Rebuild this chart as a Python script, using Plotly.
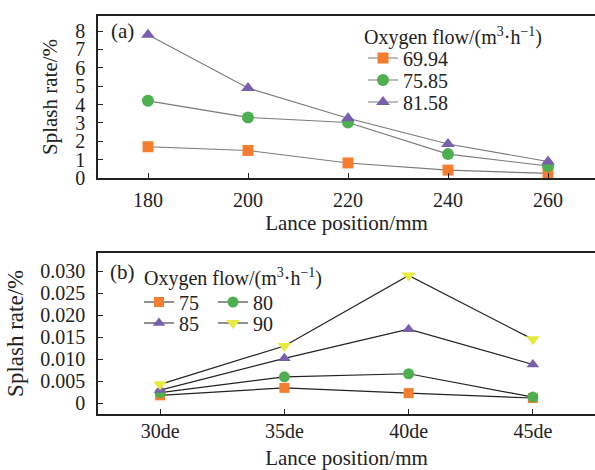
import plotly.graph_objects as go

# ---------------- data ----------------
lance_a = [180, 200, 220, 240, 260]
flow_a_names = ["69.94", "75.85", "81.58"]
rate_a_6994 = [1.70, 1.50, 0.82, 0.43, 0.25]
rate_a_7585 = [4.20, 3.30, 3.02, 1.30, 0.65]
rate_a_8158 = [7.80, 4.90, 3.25, 1.85, 0.90]

lance_b = ["30de", "35de", "40de", "45de"]
flow_b_names = ["75", "80", "85", "90"]
rate_b_75 = [0.0018, 0.0035, 0.0023, 0.0012]
rate_b_80 = [0.0024, 0.0060, 0.0067, 0.0014]
rate_b_85 = [0.0030, 0.0102, 0.0168, 0.0088]
rate_b_90 = [0.0043, 0.0130, 0.0290, 0.0145]

y_ticks_a = [0, 1, 2, 3, 4, 5, 6, 7, 8]
y_ticks_b = [0, 0.005, 0.010, 0.015, 0.020, 0.025, 0.030]
y_ticktext_b = ["0", "0.005", "0.010", "0.015", "0.020", "0.025", "0.030"]

# ---------------- style ----------------
FONT = "Liberation Serif"
ORANGE = "#F47D30"
GREEN = "#4DAF4F"
PURPLE = "#7A5FAF"
YELLOW = "#E9E940"

fig = go.Figure()

top_series = [
    (rate_a_6994, flow_a_names[0], "square", ORANGE, 11, "legend"),
    (rate_a_7585, flow_a_names[1], "circle", GREEN, 12, "legend2"),
    (rate_a_8158, flow_a_names[2], "triangle-up", PURPLE, 12, "legend3"),
]
for vals, name, sym, col, sz, leg in top_series:
    fig.add_trace(go.Scatter(
        x=lance_a, y=vals, name=name, mode="lines+markers",
        line=dict(color="#7a7a7a", width=1.1),
        marker=dict(symbol=sym, color=col, size=sz, line=dict(width=0)),
        xaxis="x", yaxis="y", legend=leg, cliponaxis=False))

bot_series = [
    (rate_b_75, flow_b_names[0], "square", ORANGE, 10, "legend4"),
    (rate_b_80, flow_b_names[1], "circle", GREEN, 11, "legend4"),
    (rate_b_85, flow_b_names[2], "triangle-up", PURPLE, 11, "legend5"),
    (rate_b_90, flow_b_names[3], "triangle-down", YELLOW, 12, "legend5"),
]
for vals, name, sym, col, sz, leg in bot_series:
    fig.add_trace(go.Scatter(
        x=lance_b, y=vals, name=name, mode="lines+markers",
        line=dict(color="#222222", width=1.2),
        marker=dict(symbol=sym, color=col, size=sz, line=dict(width=0)),
        xaxis="x2", yaxis="y2", legend=leg, cliponaxis=False))

H = 470
ML, MR, MT, MB = 98, 0, 16, 56
PH = H - MT - MB


def py(pix):
    return (H - MB - pix) / PH


def px(pix):
    return (pix - ML) / (595 - ML - MR)


axis_common = dict(
    showgrid=False, zeroline=False, showline=True, linecolor="#222222",
    linewidth=1.5, ticks="inside", ticklen=5, tickcolor="#222222",
    tickfont=dict(family=FONT, size=20, color="#222222"),
)

leg_common = dict(
    bgcolor="rgba(0,0,0,0)", font=dict(family=FONT, size=20, color="#222222"),
    xanchor="left", yanchor="middle", borderwidth=0,
)

fig.update_layout(
    width=595, height=470,
    margin=dict(l=ML, r=MR, t=MT, b=MB),
    paper_bgcolor="white", plot_bgcolor="white",
    font=dict(family=FONT, size=20, color="#222222"),
    showlegend=True,
    xaxis=dict(axis_common, domain=[0, 1], anchor="y", range=[170, 269.4],
               tickvals=lance_a, mirror=True, ticklabelstandoff=3,
               title=dict(text="Lance position/mm", standoff=2,
                          font=dict(family=FONT, size=21))),
    yaxis=dict(axis_common, domain=[py(178), 1], anchor="x", range=[0, 8.82],
               tickvals=y_ticks_a, ticklabelstandoff=7,
               title=dict(text="Splash rate/%", standoff=12,
                          font=dict(family=FONT, size=21))),
    xaxis2=dict(axis_common, domain=[0, 1], anchor="y2", type="category",
                range=[-0.5, 3.5], mirror=True, ticklabelstandoff=-2,
                title=dict(text="Lance position/mm", standoff=13,
                           font=dict(family=FONT, size=21))),
    yaxis2=dict(axis_common, domain=[0, py(252.7)], anchor="x2",
                range=[-0.00243, 0.03416], tickvals=y_ticks_b,
                ticktext=y_ticktext_b, ticklabelstandoff=7,
                title=dict(text="Splash rate/%", standoff=10,
                           font=dict(family=FONT, size=23))),
    legend=dict(leg_common, x=px(363), y=py(58)),
    legend2=dict(leg_common, x=px(363), y=py(80)),
    legend3=dict(leg_common, x=px(363), y=py(102)),
    legend4=dict(leg_common, x=px(139), y=py(302), orientation="h",
                 entrywidth=29, entrywidthmode="pixels"),
    legend5=dict(leg_common, x=px(139), y=py(323), orientation="h",
                 entrywidth=29, entrywidthmode="pixels"),
    annotations=[
        dict(text="(a)", xref="paper", yref="paper", x=px(122), y=py(31),
             xanchor="center", yanchor="middle", showarrow=False,
             font=dict(family=FONT, size=21, color="#222222")),
        dict(text="(b)", xref="paper", yref="paper", x=px(122), y=py(272),
             xanchor="center", yanchor="middle", showarrow=False,
             font=dict(family=FONT, size=21, color="#222222")),
        dict(text="Oxygen flow/(m<sup>3</sup>·h<sup>−1</sup>)", xref="paper",
             yref="paper", x=px(362), y=py(36), xanchor="left",
             yanchor="middle", showarrow=False,
             font=dict(family=FONT, size=20, color="#222222")),
        dict(text="Oxygen flow/(m<sup>3</sup>·h<sup>−1</sup>)", xref="paper",
             yref="paper", x=px(142), y=py(277), xanchor="left",
             yanchor="middle", showarrow=False,
             font=dict(family=FONT, size=20, color="#222222")),
    ],
)

fig.write_html("out.html", config={"displayModeBar": False},
               post_script="document.body.style.margin='0px';")
